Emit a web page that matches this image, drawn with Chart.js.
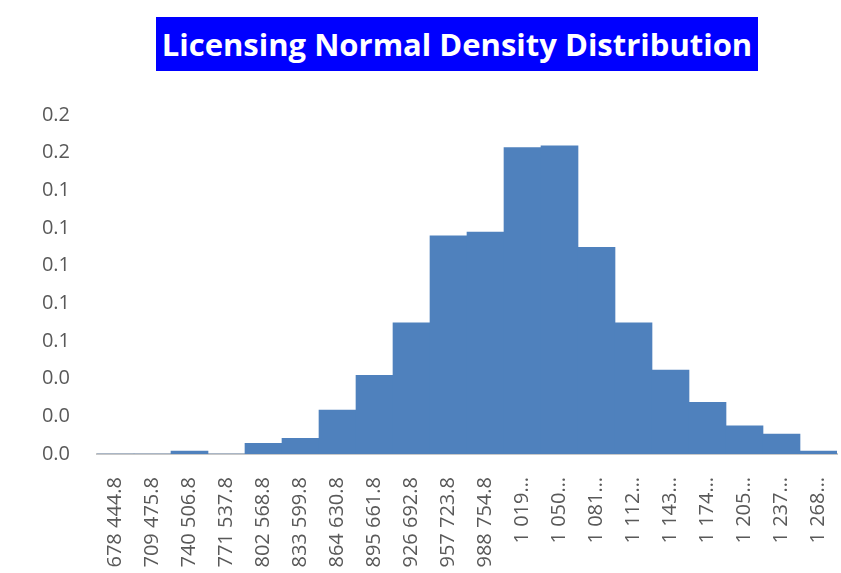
<!DOCTYPE html>
<html lang="en">
<head>
  <meta charset="UTF-8" />
  <title>Licensing Normal Density Distribution</title>
  <script src="https://cdn.jsdelivr.net/npm/chart.js"></script>
  <style>
    html, body {
      margin: 0;
      padding: 0;
      background: #ffffff;
    }
    .wrap {
      position: relative;
      width: 841px;
      height: 573px;
      overflow: hidden;
    }
    .title {
      position: absolute;
      left: 156px;
      top: 17px;
      width: 602px;
      height: 54px;
      background: #0000ff;
      color: #ffffff;
      font-family: 'Open Sans', sans-serif;
      font-weight: bold;
      font-size: 31px;
      line-height: 54px;
      text-align: center;
      white-space: nowrap;
    }
    canvas {
      position: absolute;
      left: 0;
      top: 0;
    }
  </style>
</head>
<body>
  <div class="wrap">
    <canvas id="densityChart" width="841" height="573"></canvas>
    <div class="title">Licensing Normal Density Distribution</div>
  </div>

  <script>
    // bin starts (x axis)
    const bins = [
      678444.8, 709475.8, 740506.8, 771537.8, 802568.8,
      833599.8, 864630.8, 895661.8, 926692.8, 957723.8,
      988754.8, 1019785.8, 1050816.8, 1081847.8, 1112878.8,
      1143909.8, 1174940.8, 1205971.8, 1237002.8, 1268033.8
    ];

    // density per bin
    const density = [
      0, 0, 0.0015, 0, 0.0057,
      0.0083, 0.0233, 0.0418, 0.0697, 0.1158,
      0.1178, 0.1627, 0.1636, 0.1097, 0.0697,
      0.0446, 0.0274, 0.0149, 0.0106, 0.0015
    ];

    // y axis range
    const yMin = 0;
    const yMax = 0.18;
    const yStep = 0.02;

    function binLabel(v) {
      const parts = v.toFixed(1).split('.');
      const whole = parts[0].replace(/\B(?=(\d{3})+(?!\d))/g, ' ');
      const s = whole + '.' + parts[1];
      // long labels get cut like in the original
      return s.length > 9 ? s.slice(0, 5) + '…' : s;
    }

    const tickFont = { family: "'Open Sans', sans-serif", size: 20 };

    new Chart(document.getElementById('densityChart').getContext('2d'), {
      type: 'bar',
      data: {
        labels: bins.map(binLabel),
        datasets: [
          {
            label: 'Density',
            data: density,
            backgroundColor: '#4f81bd',
            borderWidth: 0,
            barPercentage: 1,
            categoryPercentage: 1
          }
        ]
      },
      options: {
        responsive: false,
        animation: false,
        layout: {
          padding: { top: 115, right: 4, bottom: 0, left: 0 }
        },
        plugins: {
          legend: { display: false },
          title: { display: false },
          tooltip: { enabled: false }
        },
        scales: {
          x: {
            grid: { display: false, drawTicks: false },
            border: { display: true, color: '#c8c8c8', width: 2 },
            ticks: {
              color: '#595959',
              font: tickFont,
              minRotation: 90,
              maxRotation: 90,
              autoSkip: false,
              padding: 23
            },
            afterFit(scale) {
              scale.height = 119;
              // no extra room for the rotated end labels
              scale.paddingLeft = 0;
              scale.paddingRight = 0;
            }
          },
          y: {
            min: yMin,
            max: yMax,
            grid: { display: false, drawTicks: false },
            border: { display: false },
            ticks: {
              stepSize: yStep,
              color: '#595959',
              font: tickFont,
              padding: 27,
              callback: v => Number(v).toFixed(1)
            },
            afterFit(scale) { scale.width = 97; }
          }
        }
      }
    });
  </script>
</body>
</html>
